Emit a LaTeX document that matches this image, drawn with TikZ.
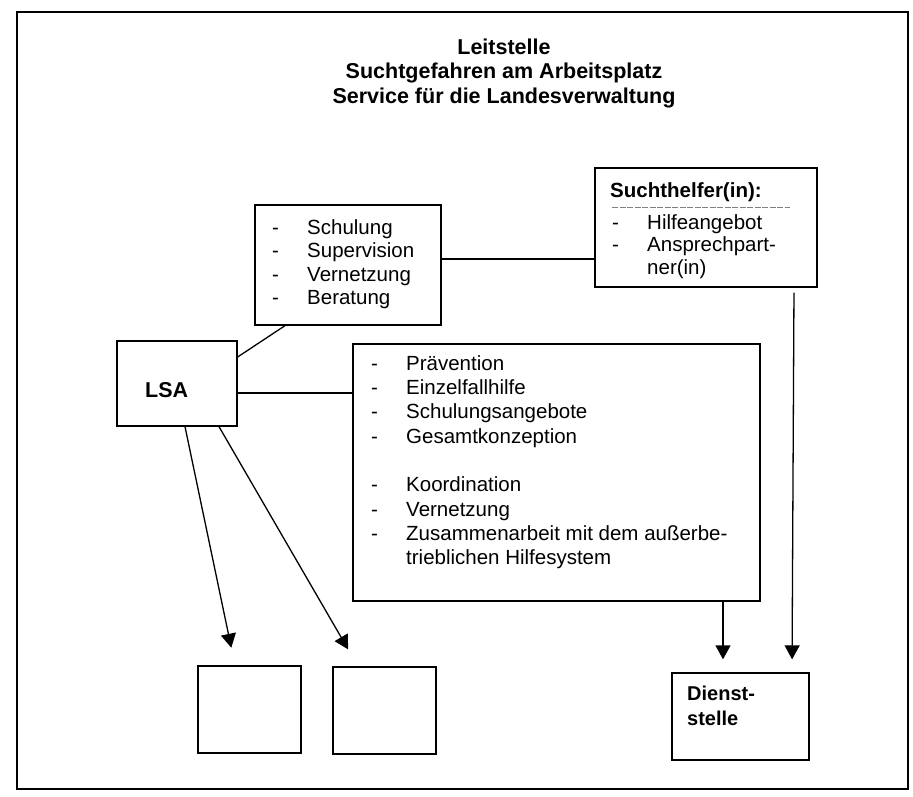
\documentclass[tikz,border=0pt]{standalone}
\usepackage{fontspec}
\setmainfont{Liberation Sans}
\usetikzlibrary{arrows.meta}

\newcommand{\listfont}{\fontsize{20.5}{23.5}\selectfont}
\newcommand{\midfont}{\fontsize{20.5}{24.3}\selectfont}
\newcommand{\helferfont}{\fontsize{20.5}{22.5}\selectfont}
\newcommand{\boldfont}{\bfseries\fontsize{20.5}{24}\selectfont}

\begin{document}
\begin{tikzpicture}[x=1pt, y=-1pt,
  kasten/.style={draw, line width=1.3pt, inner sep=0pt},
  linie/.style={line width=1.3pt},
  pfeil/.style={line width=1.3pt, -{Triangle[width=15pt,length=14pt]}},
  liste/.style={anchor=north west, inner sep=0pt},
  fett/.style={anchor=base west, inner sep=0pt, font=\boldfont}]
  \useasboundingbox (0,0) rectangle (913,797);
  \draw[line width=1.3pt] (17,12) rectangle (908,789);

  \node[align=center, inner sep=0pt, font=\bfseries\fontsize{21.5}{24.5}\selectfont] (titel) at (504,73)
    {Leitstelle\\Suchtgefahren am Arbeitsplatz\\Service für die Landesverwaltung};

  \node[kasten, minimum width=222pt, minimum height=119pt] (such) at (706,227.5) {};
  \node[kasten, minimum width=186pt, minimum height=120pt] (schul) at (348,265) {};
  \node[kasten, minimum width=120pt, minimum height=85pt] (lsa) at (177,383.5) {};
  \node[kasten, minimum width=407pt, minimum height=257pt] (mid) at (556.5,472.5) {};
  \node[kasten, minimum width=103pt, minimum height=87pt] (leer1) at (249.5,709.5) {};
  \node[kasten, minimum width=103pt, minimum height=87pt] (leer2) at (384.5,710.5) {};
  \node[kasten, minimum width=137pt, minimum height=87pt] (dienst) at (740.5,716.5) {};

  \node[fett] (suchtitel) at (610,197) {Suchthelfer(in):};
  \draw[gray, line width=0.6pt, dash pattern=on 6pt off 1.5pt] (612,207) -- (790,207);
  \node[liste, font=\helferfont] (suchliste) at (612,213.25) {%
    \begin{tabular}{@{}p{35pt}@{}l@{}}
    - & Hilfeangebot\\
    - & Ansprechpart-\\
      & ner(in)
    \end{tabular}};

  \node[liste, font=\listfont] (schulliste) at (272,217.55) {%
    \begin{tabular}{@{}p{35pt}@{}l@{}}
    - & Schulung\\
    - & Supervision\\
    - & Vernetzung\\
    - & Beratung
    \end{tabular}};

  \node[liste, font=\midfont] (midliste) at (371,353) {%
    \begin{tabular}{@{}p{35pt}@{}l@{}}
    - & Prävention\\
    - & Einzelfallhilfe\\
    - & Schulungsangebote\\
    - & Gesamtkonzeption\\
      & \\
    - & Koordination\\
    - & Vernetzung\\
    - & Zusammenarbeit mit dem außerbe-\\
      & trieblichen Hilfesystem
    \end{tabular}};

  \node[fett, font=\bfseries\fontsize{21.5}{24}\selectfont] (lsatext) at (145,397) {LSA};
  \node[fett, font=\bfseries\fontsize{20}{24}\selectfont] (dienst1) at (687,700) {Dienst-};
  \node[fett, font=\bfseries\fontsize{20}{24}\selectfont] (dienst2) at (687,725) {stelle};

  \draw[linie] (schul.east |- 0,259) -- (such.west |- 0,259);
  \draw[linie] (schul.south -| 285,0) -- (lsa.east |- 0,357);
  \draw[linie] (lsa.east |- 0,393) -- (mid.west |- 0,393);
  \draw[pfeil, shorten >=18pt] (lsa.south -| 185,0) -- (leer1.north -| 235,0);
  \draw[pfeil, shorten >=19.6pt] (lsa.south -| 219,0) -- (leer2.north -| 358,0);
  \draw[pfeil, shorten >=13pt] (mid.south -| 723,0) -- (dienst.north -| 723,0);
  \draw[pfeil, shorten <=5pt, shorten >=13pt] (such.south -| 794,0) -- (dienst.north -| 792,0);
\end{tikzpicture}
\end{document}
